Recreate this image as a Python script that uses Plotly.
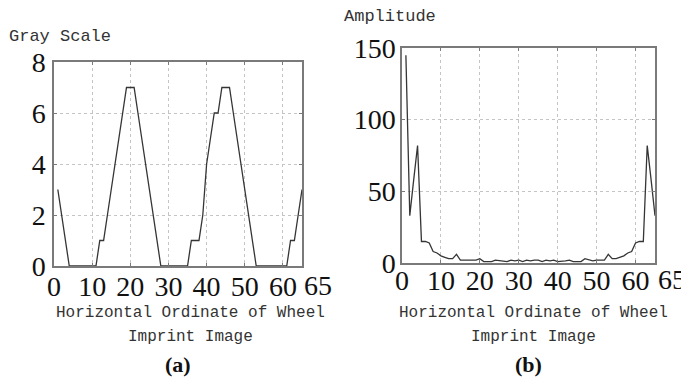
import plotly.graph_objects as go

# ---- data ----
x_pos = list(range(1, 66))
gray_scale = [3, 2, 1, 0, 0, 0, 0, 0, 0, 0, 0, 1, 1, 2, 3, 4, 5, 6, 7, 7,
              7, 6, 5, 4, 3, 2, 1, 0, 0, 0, 0, 0, 0, 0, 0, 1, 1, 1, 2, 4,
              5, 6, 6, 7, 7, 7, 6, 5, 4, 3, 2, 1, 0, 0, 0, 0, 0, 0, 0, 0,
              0, 1, 1, 2, 3]
amplitude = [145, 33, 58, 82, 15, 15, 14, 8, 7, 5, 4, 3, 3, 6, 2, 2, 2, 1.5, 2, 3,
             1, 1, 1, 2, 1.5, 1, 1, 2, 1.5, 2, 1, 2, 1.5, 2, 2, 1, 2, 1.5, 2, 1,
             1, 1.5, 2, 1, 1, 1, 3, 2, 1.5, 2, 2, 2, 6, 3, 3, 4, 5, 7, 8, 14,
             15, 15, 82, 58, 33]
x_ticks = [0, 10, 20, 30, 40, 50, 60]
x_end_label = "65"
y_ticks_a = [0, 2, 4, 6, 8]
y_ticks_b = [0, 50, 100, 150]

W, H = 689, 377
OFF = 8  # page body margin
def px(v): return (v - OFF) / W
def py(v): return 1 - (v - OFF) / H

serif = "Liberation Serif"
mono = "Liberation Mono"
line_col = "#353535"
frame_col = "#7a7a7a"
grid_col = "#c4c4c4"

fig = go.Figure()
fig.add_trace(go.Scatter(x=x_pos, y=gray_scale, mode="lines",
                         line=dict(color=line_col, width=1.3),
                         xaxis="x", yaxis="y", showlegend=False))
fig.add_trace(go.Scatter(x=x_pos, y=amplitude, mode="lines",
                         line=dict(color=line_col, width=1.3),
                         xaxis="x2", yaxis="y2", showlegend=False))

axis_common = dict(showline=True, mirror="ticks", linecolor=frame_col, linewidth=1.5,
                   showgrid=True, gridcolor=grid_col, griddash="dot", gridwidth=1,
                   ticks="inside", ticklen=3, tickcolor=frame_col, zeroline=False,
                   automargin=False,
                   tickfont=dict(family=serif, size=28, color="#111"), tickangle=0)

fig.update_layout(
    width=W, height=H, autosize=False,
    margin=dict(l=0, r=0, t=0, b=0, pad=0),
    paper_bgcolor="white", plot_bgcolor="white",
    xaxis=dict(domain=[px(54), px(302)], range=[0, 65], tickvals=x_ticks,
               anchor="y", ticklabelstandoff=-5, **axis_common),
    yaxis=dict(domain=[py(266), py(62)], range=[0, 8], tickvals=y_ticks_a,
               anchor="x", ticklabelstandoff=1, **axis_common),
    xaxis2=dict(domain=[px(402), px(655)], range=[0, 65], tickvals=x_ticks,
                anchor="y2", ticklabelstandoff=-8, **axis_common),
    yaxis2=dict(domain=[py(263), py(48)], range=[0, 150], tickvals=y_ticks_b,
                anchor="x2", ticklabelstandoff=-1, **axis_common),
)

ann = []
# end tick labels "65"
ann.append(dict(x=65, y=0, xref="x", yref="y", text=x_end_label, showarrow=False,
                xanchor="center", yanchor="middle", xshift=16, yshift=-19,
                font=dict(family=serif, size=28, color="#111")))
ann.append(dict(x=65, y=0, xref="x2", yref="y2", text=x_end_label, showarrow=False,
                xanchor="center", yanchor="middle", xshift=17, yshift=-16,
                font=dict(family=serif, size=28, color="#111")))
# y titles
ann.append(dict(x=px(60), y=py(37), xref="paper", yref="paper", text="Gray Scale",
                xanchor="center", yanchor="middle",
                showarrow=False, font=dict(family=mono, size=17, color="#333")))
ann.append(dict(x=px(390), y=py(16), xref="paper", yref="paper", text="Amplitude",
                xanchor="center", yanchor="middle",
                showarrow=False, font=dict(family=mono, size=17, color="#333")))
# x titles
for cx in (190, 533):
    ann.append(dict(x=px(cx), y=py(313), xref="paper", yref="paper",
                    text="Horizontal Ordinate of Wheel", showarrow=False,
                    xanchor="center", yanchor="middle",
                    font=dict(family=mono, size=16, color="#333")))
    ann.append(dict(x=px(cx), y=py(337), xref="paper", yref="paper",
                    text="Imprint Image", showarrow=False,
                    xanchor="center", yanchor="middle",
                    font=dict(family=mono, size=16, color="#333")))
# panel labels
ann.append(dict(x=px(177.5), y=py(364), xref="paper", yref="paper", text="<b>(a)</b>",
                xanchor="center", yanchor="middle",
                showarrow=False, font=dict(family=serif, size=22, color="#111")))
ann.append(dict(x=px(528), y=py(364), xref="paper", yref="paper", text="<b>(b)</b>",
                xanchor="center", yanchor="middle",
                showarrow=False, font=dict(family=serif, size=22, color="#111")))
fig.update_layout(annotations=ann)

fig.write_html("out.html")
